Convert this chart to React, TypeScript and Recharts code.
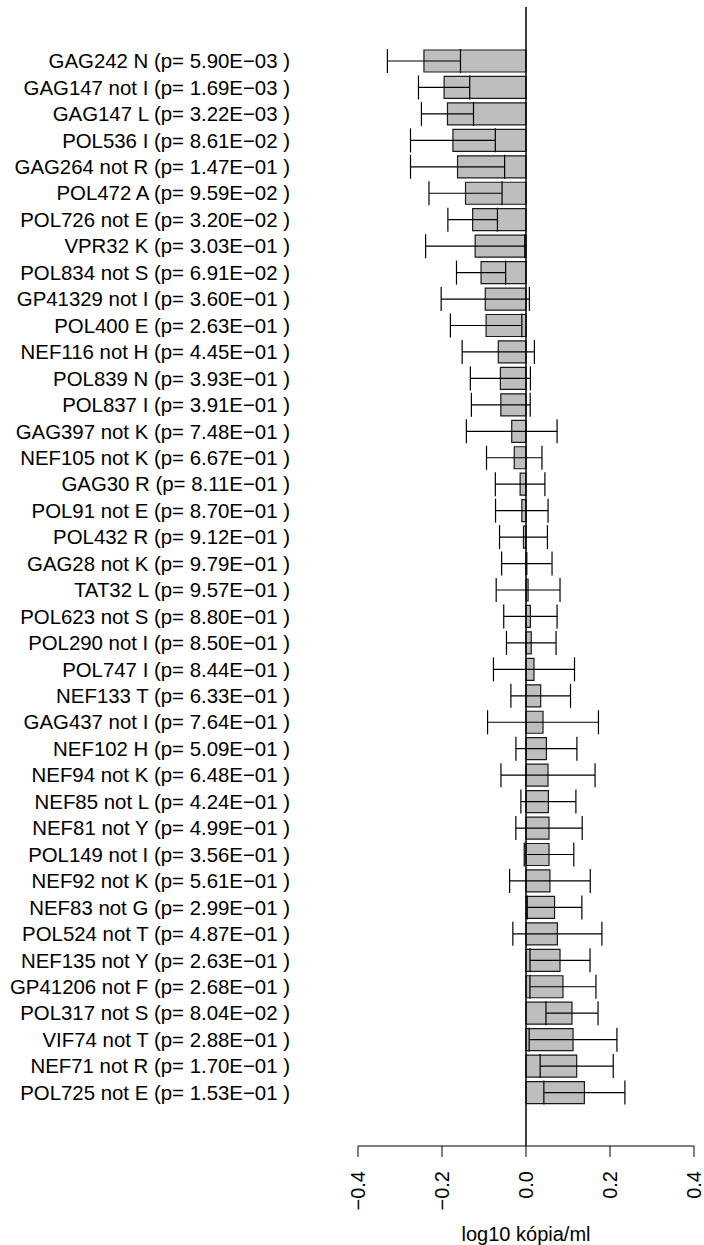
import {Bar, BarChart, ErrorBar, ReferenceLine, XAxis, YAxis} from 'recharts';

// mutation positions, top to bottom
const mutations = [
  'GAG242 N', 'GAG147 not I', 'GAG147 L', 'POL536 I', 'GAG264 not R',
  'POL472 A', 'POL726 not E', 'VPR32 K', 'POL834 not S', 'GP41329 not I',
  'POL400 E', 'NEF116 not H', 'POL839 N', 'POL837 I', 'GAG397 not K',
  'NEF105 not K', 'GAG30 R', 'POL91 not E', 'POL432 R', 'GAG28 not K',
  'TAT32 L', 'POL623 not S', 'POL290 not I', 'POL747 I', 'NEF133 T',
  'GAG437 not I', 'NEF102 H', 'NEF94 not K', 'NEF85 not L', 'NEF81 not Y',
  'POL149 not I', 'NEF92 not K', 'NEF83 not G', 'POL524 not T', 'NEF135 not Y',
  'GP41206 not F', 'POL317 not S', 'VIF74 not T', 'NEF71 not R', 'POL725 not E',
];

const pValues = [
  '5.90E-03', '1.69E-03', '3.22E-03', '8.61E-02', '1.47E-01',
  '9.59E-02', '3.20E-02', '3.03E-01', '6.91E-02', '3.60E-01',
  '2.63E-01', '4.45E-01', '3.93E-01', '3.91E-01', '7.48E-01',
  '6.67E-01', '8.11E-01', '8.70E-01', '9.12E-01', '9.79E-01',
  '9.57E-01', '8.80E-01', '8.50E-01', '8.44E-01', '6.33E-01',
  '7.64E-01', '5.09E-01', '6.48E-01', '4.24E-01', '4.99E-01',
  '3.56E-01', '5.61E-01', '2.99E-01', '4.87E-01', '2.63E-01',
  '2.68E-01', '8.04E-02', '2.88E-01', '1.70E-01', '1.53E-01',
];

// mean difference in log10 copies/ml
const effects = [
  -0.243, -0.195, -0.187, -0.174, -0.163,
  -0.144, -0.127, -0.121, -0.107, -0.097,
  -0.095, -0.066, -0.061, -0.060, -0.034,
  -0.028, -0.014, -0.010, -0.006, 0.002,
  0.005, 0.0105, 0.0125, 0.019, 0.035,
  0.0405, 0.0486, 0.0524, 0.0533, 0.0548,
  0.0548, 0.057, 0.068, 0.0747, 0.081,
  0.088, 0.1095, 0.112, 0.1207, 0.139,
];

// standard errors (symmetric)
const stdErrors = [
  0.087, 0.061, 0.062, 0.101, 0.112,
  0.087, 0.059, 0.118, 0.0585, 0.105,
  0.085, 0.086, 0.0715, 0.070, 0.108,
  0.066, 0.059, 0.0625, 0.057, 0.060,
  0.076, 0.0635, 0.059, 0.0965, 0.071,
  0.132, 0.0726, 0.112, 0.0655, 0.079,
  0.059, 0.096, 0.065, 0.106, 0.0715,
  0.0786, 0.062, 0.1045, 0.087, 0.0965,
];

const xTicks = [-0.4, -0.2, 0, 0.2, 0.4];

const FONT = '"Liberation Sans", Arial, Helvetica, sans-serif';
const MINUS = '\u2212';

const data = mutations.map((m, i) => ({
  label: `${m} (p= ${pValues[i].replace('-', MINUS)} )`,
  effect: effects[i],
  se: stdErrors[i],
}));

const fmtTick = (v: number) => (v < 0 ? MINUS : '') + Math.abs(v).toFixed(1);

const CategoryTick = ({y, payload}: any) => (
  <text x={290} y={y + 7} textAnchor="end" fontFamily={FONT} fontSize={20.4} fill="#000">
    {payload.value}
  </text>
);

const ValueTick = ({x, payload}: any) => (
  <text
    x={x + 7}
    y={1171}
    transform={`rotate(-90, ${x + 7}, 1171)`}
    textAnchor="end"
    fontFamily={FONT}
    fontSize={20}
    fill="#000"
  >
    {fmtTick(payload.value)}
  </text>
);

export default function App() {
  return (
    <div style={{position: 'absolute', left: 0, top: 0, background: '#fff'}}>
      <BarChart
        width={704}
        height={1245}
        data={data}
        layout="vertical"
        margin={{top: 7, right: 10, bottom: 0, left: 0}}
      >
        <XAxis
          type="number"
          domain={[-0.4, 0.4]}
          ticks={xTicks}
          allowDataOverflow
          height={99}
          tickSize={11}
          axisLine={{stroke: '#000', strokeWidth: 1}}
          tickLine={{stroke: '#000', strokeWidth: 1}}
          tick={<ValueTick/>}
          label={{
            value: 'log10 kópia/ml',
            position: 'insideBottom',
            offset: 4,
            fontFamily: FONT,
            fontSize: 20,
            fill: '#000',
          }}
        />
        <YAxis
          type="category"
          dataKey="label"
          width={358}
          interval={0}
          axisLine={false}
          tickLine={false}
          padding={{top: 41, bottom: 40}}
          tick={<CategoryTick/>}
        />
        <Bar
          dataKey="effect"
          barSize={22}
          fill="#bebebe"
          stroke="#1a1a1a"
          strokeWidth={1.2}
          isAnimationActive={false}
        >
          <ErrorBar
            dataKey="se"
            direction="x"
            width={12}
            stroke="#000"
            strokeWidth={1.2}
            isAnimationActive={false}
          />
        </Bar>
        <ReferenceLine x={0} stroke="#000" strokeWidth={1.5}/>
      </BarChart>
    </div>
  );
}
